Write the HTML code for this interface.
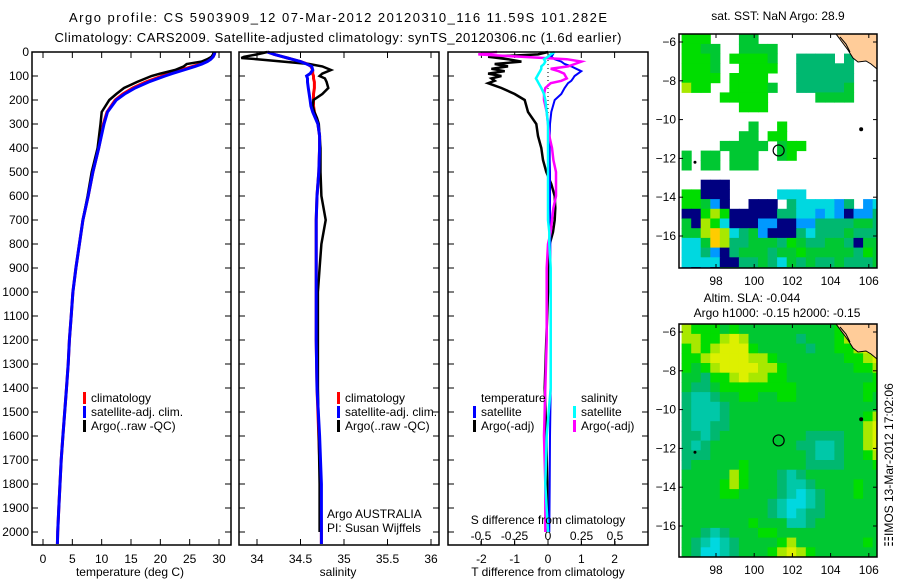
<!DOCTYPE html>
<html><head><meta charset="utf-8"><style>
html,body{margin:0;padding:0;background:#fff;}
svg{display:block;font-family:"Liberation Sans",sans-serif;}
text{font-size:12px;fill:#000;}
</style></head><body>
<svg id="chart" width="900" height="580" viewBox="0 0 900 580">
<g id="titles">
<text x="338" y="22" text-anchor="middle" style="font-size:13px" textLength="538">Argo profile: CS 5903909_12 07-Mar-2012 20120310_116 11.59S 101.282E</text>
<text x="338" y="42" text-anchor="middle" style="font-size:13px" textLength="567">Climatology: CARS2009. Satellite-adjusted climatology: synTS_20120306.nc (1.6d earlier)</text>
</g>
<g id="layer"></g>
</svg>
<script>
// ---------- data ----------
const depthT=[0,10,20,30,40,50,60,75,90,100,125,150,175,200,250,300,400,500,600,700,800,900,1000,1100,1200,1300,1400,1500,1600,1700,1800,1900,2000,2050];
const climT=[29.3,29.2,29.0,28.5,27.8,26.8,25.5,23.5,21.5,20.3,17.5,15.3,13.6,12.3,10.9,10.3,9.5,8.5,7.7,6.8,6.2,5.6,5.1,4.8,4.5,4.3,4.0,3.7,3.4,3.1,2.9,2.7,2.5,2.45];
const satT=[29.3,29.2,29.0,28.6,28.0,27.1,25.9,24.0,22.0,20.8,18.0,15.7,13.9,12.5,11.0,10.4,9.5,8.5,7.7,6.8,6.2,5.6,5.1,4.8,4.5,4.3,4.0,3.7,3.4,3.1,2.9,2.7,2.5,2.45];
const argoT=[29.1,29.0,28.7,28.0,27.0,24.5,24.0,22.5,20.0,18.5,16.0,13.8,12.5,11.3,10.0,9.8,9.3,8.3,7.6,6.8,6.2,5.6,5.1,4.8,4.5,4.3,4.0,3.7,3.4,3.1,2.9,2.7,2.5];
const tempTicks=[0,5,10,15,20,25,30];
const depthTicks=[0,100,200,300,400,500,600,700,800,900,1000,1100,1200,1300,1400,1500,1600,1700,1800,1900,2000];

const depthS=[0,10,20,25,30,40,50,60,75,90,100,110,125,150,175,200,225,250,275,300,350,400,500,600,700,800,900,1000,1200,1400,1600,1800,2000,2050];
const climS=[34.12,34.20,34.30,34.35,34.40,34.50,34.58,34.62,34.64,34.64,34.65,34.65,34.66,34.66,34.65,34.65,34.65,34.66,34.68,34.70,34.72,34.72,34.71,34.69,34.68,34.68,34.68,34.68,34.68,34.69,34.71,34.73,34.74,34.74];
const satS=[34.12,34.20,34.30,34.35,34.40,34.50,34.57,34.63,34.64,34.61,34.57,34.58,34.58,34.59,34.60,34.61,34.62,34.64,34.67,34.70,34.72,34.72,34.71,34.69,34.68,34.68,34.68,34.68,34.68,34.69,34.72,34.74,34.74,34.74];
const argoS=[34.12,34.0,33.85,33.82,34.0,34.3,34.6,34.75,34.85,34.75,34.72,34.78,34.8,34.82,34.75,34.65,34.64,34.66,34.69,34.71,34.72,34.73,34.73,34.74,34.79,34.74,34.72,34.70,34.70,34.70,34.71,34.72,34.72];
const salTicks=[34,34.5,35,35.5,36];

const depthD=[0,10,20,30,40,50,60,70,80,90,100,110,120,130,150,175,200,250,300,350,400,450,500,550,600,650,700,750,800,900,1000,1200,1400,1600,1800,2000];
const argoTd=[0,-0.3,-1.8,-1.2,-0.8,-1.6,-1.2,-1.7,-1.3,-1.8,-1.4,-1.7,-1.6,-1.8,-1.4,-1.0,-0.7,-0.6,-0.35,-0.3,-0.2,-0.15,-0.05,0.1,0.2,0.22,0.2,0.15,0.05,0.0,0.0,-0.05,-0.1,-0.05,-0.02,-0.02];
const satTd=[0.1,0.15,0.1,0.2,0.4,0.5,0.7,0.85,1.0,0.9,0.8,0.75,0.7,0.6,0.5,0.4,0.2,0.1,0.06,0.05,0.05,0.05,0.06,0.06,0.06,0.06,0.07,0.07,0.07,0.07,0.08,0.08,0.08,0.06,0.05,0.04];
const satSd=[0.05,0.02,0.0,-0.03,-0.02,-0.03,-0.05,-0.05,-0.06,-0.07,-0.08,-0.09,-0.08,-0.07,-0.05,-0.03,-0.02,-0.01,0,0,0,0,0,0,0,0,0,0.01,0.01,0.02,0.02,0.02,0.02,-0.01,-0.02,0.0];
const argoSd=[-0.38,-0.52,-0.2,0.14,0.25,0.2,0.15,0.02,0.08,0.12,0.13,0.14,0.1,0.02,-0.02,-0.03,-0.03,-0.01,0.0,0.01,0.03,0.04,0.06,0.06,0.06,0.04,0.03,0.02,0.0,-0.01,-0.01,-0.01,-0.02,-0.03,-0.02,-0.02];
const tdTicks=[-2,-1,0,1,2];
const sdTicks=[-0.5,-0.25,0,0.25,0.5];
const sdTickLabels=["-0.5","-0.25","0","0.25","0.5"];

const lonTicks=[98,100,102,104,106];
const latTicks=[-6,-8,-10,-12,-14,-16];
const sstGrid=[
"GGG...gg..........Gll",
"GGgg..gggg........Gll",
"GGGg.GGGGg..tttt.t..l",
"GGGg..GGGG..tttttt...",
"GGGG.GGGG...tttttt...",
"yGG..GGGGg..tttttg...",
"....GGGGG.....gggg...",
"......GGG............",
".....................",
".......g..G..........",
"......gg.GG..........",
"....ggggg.gGG........",
"g.gg.ggg..gG.........",
"g.gg.ggg.............",
".....................",
"..nnn................",
"GGnnn.....ccc........",
"GGgbn..nnn.tccccbt.bc",
"nnGyGnnnnnttccbcbnbbt",
"gnyGcnnnbbnnbbttttggt",
"ggyoyctgbnnntctttgttt",
"ccgoyttgggtGgttggtngg",
"cctbntgggtggGgggggtGg",
"ccccnnttgtcgtgttgtttg",
"bnbntttgggttgtgggtttt"];
const slaGrid=[
"yGGGgGggggggggggGGGyl",
"yyGGyYygggggtgggGyyYl",
"GyGyYYYGgggggtggGGyYl",
"GGyYYYYyyGgggggggGGyY",
"GgGyYYYYyyGgggggggGGy",
"ggtGGyYyyGGgggggggggG",
"gttgGGGGGGGGgggggggGG",
"tTTtggGGggGGgggggggGg",
"tTTTtgggggggggggggggg",
"tTTTtggggggggggggggGy",
"tTTttggggggggggggggyY",
"ttTtgggggggggttttggyY",
"tTtgggggggggttTTtggyY",
"tttggggggggggtTTtggGy",
"tgggggGggggggttttgggG",
"gggggyGgggtTtgggggggg",
"ggggGyGgggtTTtggggGgg",
"ggggGGggggtTcTtgggGgg",
"gggggggggtTccTtgggggg",
"gggggggggtTcTttgggggg",
"gggggggGgggTTtggggggg",
"ggtTtgggGGggggggggggg",
"gtTcTtggggGygggggggGg",
"gtccTtgggGyYyGggggggg",
"gtTTtgggggYYygggggggg"];
const argoLon=101.28, argoLat=-11.59;

// ---------- helpers ----------
const NS="http://www.w3.org/2000/svg";
const layer=document.getElementById('layer');
function el(tag,attrs,parent){const e=document.createElementNS(NS,tag);for(const k in attrs)e.setAttribute(k,attrs[k]);(parent||layer).appendChild(e);return e;}
function txt(x,y,s,anchor,parent,size){const t=el('text',{x:x,y:y,'text-anchor':anchor||'start'},parent);if(size)t.style.fontSize=size+'px';t.textContent=s;return t;}
const yD=d=>52+d*0.24;
const xT=t=>43+t*5.867;
const xS=s=>257+(s-34)*87;
const xTd=v=>548+v*33.3;
const xSd=v=>548+v*134;
function line(depths,vals,xf,color,w,name,parent){
  const n=Math.min(depths.length,vals.length);let d='';
  for(let i=0;i<n;i++)d+=(i?'L':'M')+xf(vals[i]).toFixed(1)+','+yD(depths[i]).toFixed(1);
  const p=el('path',{d:d,fill:'none',stroke:color,'stroke-width':w,'stroke-linejoin':'miter'},parent);
  
  
  return p;
}
function frame(x0,x1,y0,y1,name){
  const r=el('rect',{x:x0,y:y0,width:x1-x0,height:y1-y0,fill:'none',stroke:'#000','stroke-width':1.5});
  
  
}
function depthAxis(x0,x1,labels){
  const g=el('g',{});
  
  
  depthTicks.forEach(d=>{const y=yD(d);
    el('line',{x1:x0,x2:x0+6,y1:y,y2:y,stroke:'#000'},g);
    el('line',{x1:x1-6,x2:x1,y1:y,y2:y,stroke:'#000'},g);
    if(labels){const t=txt(x0-3,y+4,String(d),'end',g);
      
      }
  });
}
function legendBar(x,y,color,parent){el('rect',{x:x,y:y-10,width:3,height:12,fill:color},parent);}

// ---------- panel 1: temperature ----------
const p1=el('g',{});


frame(32,231,52,545,'temperature-plot-frame');
depthAxis(32,231,true);
tempTicks.forEach(t=>{const x=xT(t);
  el('line',{x1:x,x2:x,y1:545,y2:539,stroke:'#000'},p1);
  el('line',{x1:x,x2:x,y1:52,y2:58,stroke:'#000'},p1);
  const l=txt(x,563,String(t),'middle',p1);
  
  
});
line(depthT,climT,xT,'#f00',3,'climatology-temperature-line',p1);
line(depthT,argoT,xT,'#000',2.5,'argo-temperature-line',p1);
line(depthT,satT,xT,'#00f',3,'satellite-temperature-line',p1);
const lg1=el('g',{},p1);


legendBar(83,402,'#f00',lg1);txt(91,402,'climatology','start',lg1);
legendBar(83,416,'#00f',lg1);txt(91,416,'satellite-adj. clim.','start',lg1);
legendBar(83,430,'#000',lg1);txt(91,430,'Argo(..raw -QC)','start',lg1);
const xl1=txt(130,576,'temperature (deg C)','middle',p1);



// ---------- panel 2: salinity ----------
const p2=el('g',{});


frame(239,439,52,545,'salinity-plot-frame');
depthAxis(239,439,false);
salTicks.forEach(s=>{const x=xS(s);
  el('line',{x1:x,x2:x,y1:545,y2:539,stroke:'#000'},p2);
  el('line',{x1:x,x2:x,y1:52,y2:58,stroke:'#000'},p2);
  const l=txt(x,563,String(s),'middle',p2);
  
  
});
line(depthS,climS,xS,'#f00',3,'climatology-salinity-line',p2);
line(depthS,argoS,xS,'#000',2.5,'argo-salinity-line',p2);
line(depthS,satS,xS,'#00f',3,'satellite-salinity-line',p2);
const lg2=el('g',{},p2);


legendBar(337,402,'#f00',lg2);txt(345,402,'climatology','start',lg2);
legendBar(337,416,'#00f',lg2);txt(345,416,'satellite-adj. clim.','start',lg2);
legendBar(337,430,'#000',lg2);txt(345,430,'Argo(..raw -QC)','start',lg2);
const an=el('g',{},p2);


txt(327,518,'Argo AUSTRALIA','start',an);txt(327,532,'PI: Susan Wijffels','start',an);
const xl2=txt(338,576,'salinity','middle',p2);



// ---------- panel 3: differences ----------
const p3=el('g',{});


frame(448,648,52,545,'difference-plot-frame');
depthAxis(448,648,false);
tdTicks.forEach(t=>{const x=xTd(t);
  el('line',{x1:x,x2:x,y1:545,y2:539,stroke:'#000'},p3);
  el('line',{x1:x,x2:x,y1:52,y2:58,stroke:'#000'},p3);
  const l=txt(x,563,String(t),'middle',p3);
  
  
});
sdTicks.forEach((s,i)=>{const x=xSd(s);
  el('line',{x1:x,x2:x,y1:545,y2:541,stroke:'#000'},p3);
  const l=txt(x,540,sdTickLabels[i],'middle',p3);
  
  
});
el('line',{x1:548,x2:548,y1:52,y2:yD(260),stroke:'#000','stroke-dasharray':'1,3'},p3);
line(depthD,argoTd,xTd,'#000',2.5,'argo-temperature-difference-line',p3);
line(depthD,satTd,xTd,'#00f',2,'satellite-temperature-difference-line',p3);
line(depthD,argoSd,xSd,'#f0f',2.5,'argo-salinity-difference-line',p3);
line(depthD,satSd,xSd,'#0ff',2.5,'satellite-salinity-difference-line',p3);
const lg3=el('g',{},p3);


txt(481,402,'temperature','start',lg3);txt(581,402,'salinity','start',lg3);
legendBar(473,416,'#00f',lg3);txt(481,416,'satellite','start',lg3);
legendBar(473,430,'#000',lg3);txt(481,430,'Argo(-adj)','start',lg3);
legendBar(573,416,'#0ff',lg3);txt(581,416,'satellite','start',lg3);
legendBar(573,430,'#f0f',lg3);txt(581,430,'Argo(-adj)','start',lg3);
const st=txt(548,524,'S difference from climatology','middle',p3);


const tt=txt(548,576,'T difference from climatology','middle',p3);



// ---------- maps ----------
const colors={G:'#00dd00',g:'#00c832',t:'#00b870',T:'#00c8a8',c:'#00d8e0',b:'#0099ff',n:'#000080',y:'#a8e800',Y:'#ddf000',o:'#ffcc00',l:'#ffcc99'};
function drawMap(grid,top,bottom,name,latOff){
  const g=el('g',{});
  
  
  const x0=679,x1=877;
  const lx=lon=>716+(lon-98)*19.1;
  const ly=lat=>latOff+(-6-lat)*19.4;
  const clip=el('clipPath',{id:'clip-'+name},g);
  el('rect',{x:x0,y:top,width:x1-x0,height:bottom-top},clip);
  const cells=el('g',{'clip-path':'url(#clip-'+name+')'},g);
  grid.forEach((row,j)=>{
    for(let i=0;i<row.length;i++){const c=row[i];if(c==='.')continue;
      const lon=96.2+0.5*i, lat=-5.6-0.5*j;
      const r=el('rect',{x:lx(lon).toFixed(1),y:ly(lat).toFixed(1),width:10.1,height:10.2,fill:colors[c]},cells);
      
      
    }
  });
  el('path',{d:`M836,${top}L842,${top+8}L848,${top+16}L853,${top+24}L858,${top+28}L866,${top+27}L871,${top+30}L877,${top+35}L877,${top}Z`,fill:'#ffcc99',stroke:'#000','stroke-width':1},cells);
  el('path',{d:`M840,${top+3}L846,${top+10}L850,${top+18}`,fill:'none',stroke:'#000'},cells);
  el('circle',{cx:lx(105.6),cy:ly(-10.5),r:2,fill:'#000'},cells);
  el('circle',{cx:lx(96.9),cy:ly(-12.2),r:1.5,fill:'#000'},cells);
  const ac=el('circle',{cx:lx(argoLon),cy:ly(argoLat),r:5.5,fill:'none',stroke:'#000','stroke-width':1.2},g);
  
  
  el('rect',{x:x0,y:top,width:x1-x0,height:bottom-top,fill:'none',stroke:'#000','stroke-width':1.5},g);
  lonTicks.forEach(l=>{const x=lx(l);
    el('line',{x1:x,x2:x,y1:bottom,y2:bottom-4,stroke:'#000'},g);
    el('line',{x1:x,x2:x,y1:top,y2:top+4,stroke:'#000'},g);
    const t=txt(x,bottom+17,String(l),'middle',g);
    
    
  });
  latTicks.forEach(l=>{const y=ly(l);
    el('line',{x1:x0,x2:x0+4,y1:y,y2:y,stroke:'#000'},g);
    el('line',{x1:x1-4,x2:x1,y1:y,y2:y,stroke:'#000'},g);
    const t=txt(676,y+4,String(l).replace('-','\u2212'),'end',g);
    
    
  });
  return g;
}
drawMap(sstGrid,34,268,'sst-map',42);
drawMap(slaGrid,324,557,'sla-map',332);
const mt1=txt(778,20,'sat. SST: NaN Argo: 28.9','middle');


const mt2=txt(752,302,'Altim. SLA: -0.044','middle');


const mt3=txt(777,317,'Argo h1000: -0.15 h2000: -0.15','middle');


const imos=txt(0,0,'\u2637IMOS 13-Mar-2012 17:02:06','middle');
imos.setAttribute('transform','translate(893,465) rotate(-90)');


</script>
</body></html>
